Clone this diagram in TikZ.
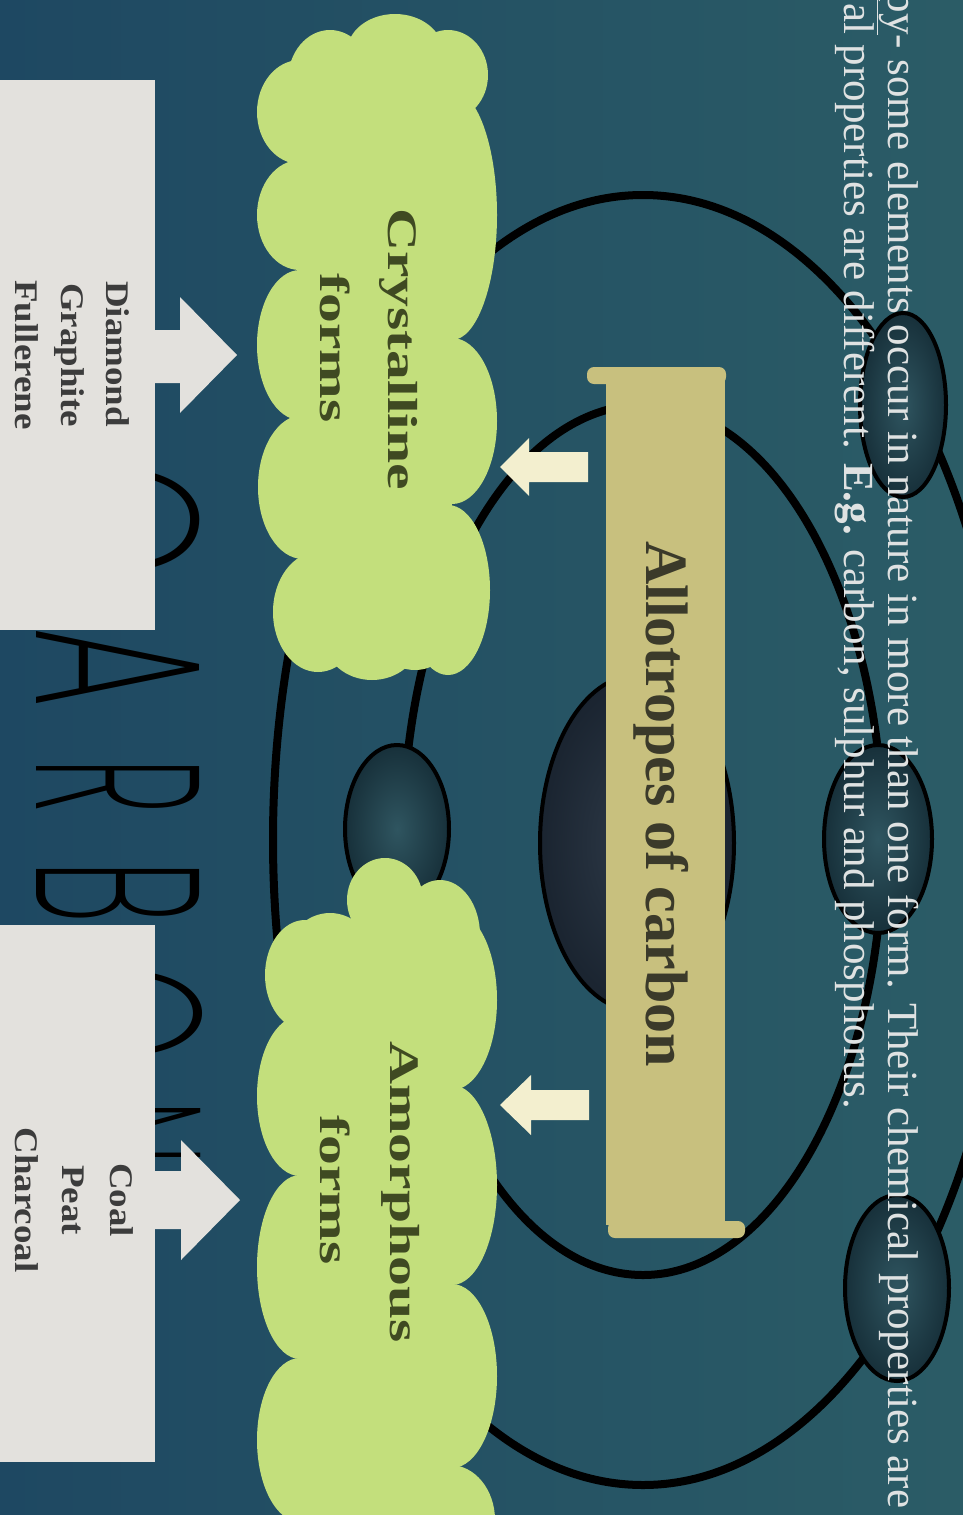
\documentclass[tikz,border=0pt]{standalone}
\usepackage{fontspec}
\usepackage{graphicx}
\setmainfont{Liberation Serif}
\newfontfamily\carbonfont{Poppins ExtraLight}
\usetikzlibrary{shapes.geometric}

\definecolor{bgleft}{HTML}{1E4862}
\definecolor{bgright}{HTML}{2B5C66}
\definecolor{cloudgreen}{HTML}{C3DF7C}
\definecolor{cloudtext}{HTML}{3F4A22}
\definecolor{boxgrey}{HTML}{E3E1DD}
\definecolor{boxtext}{HTML}{3C3C3C}
\definecolor{scrollfill}{HTML}{C8C07E}
\definecolor{scrolltext}{HTML}{3B3A2A}
\definecolor{cream}{HTML}{F3EFCF}
\definecolor{toptext}{HTML}{DFE2E2}
\definecolor{eleinner}{HTML}{2F5560}
\definecolor{eleouter}{HTML}{17303A}
\definecolor{nucinner}{HTML}{2E3A48}
\definecolor{nucouter}{HTML}{1A2430}

\tikzset{
  orbit/.style={draw=black, line width=8pt},
  electron/.style={ellipse, draw=black, line width=4pt, inner color=eleinner, outer color=eleouter, inner sep=0pt},
  nucleusnode/.style={ellipse, draw=black, line width=4pt, inner color=nucinner, outer color=nucouter, inner sep=0pt},
  cloud/.style={fill=cloudgreen},
  vtext/.style={rotate=-90, inner sep=0pt, anchor=base},
  topline/.style={rotate=-90, inner sep=0pt, anchor=base west, text=toptext, font=\fontsize{43}{43}\selectfont},
  cloudlabel/.style={vtext, text=cloudtext, font=\bfseries\fontsize{42}{42}\selectfont, xscale=1.42},
  boxlabel/.style={vtext, text=boxtext, font=\bfseries\fontsize{33}{33}\selectfont, xscale=1.12},
  cletter/.style={rotate=-90, inner sep=0pt, anchor=base west, text=black, font=\carbonfont},
}

\begin{document}
\begin{tikzpicture}[x=1pt, y=-1pt]
\useasboundingbox (0,0) rectangle (963,1515);
\clip (0,0) rectangle (963,1515);

% background
\shade[left color=bgleft, right color=bgright] (0,0) rectangle (963,1515);

% electron shells
\draw[orbit] (643,840) ellipse [x radius=370, y radius=645];
\draw[orbit] (643,840) ellipse [x radius=240, y radius=435];

% nucleus and electrons
\node[nucleusnode, minimum width=194pt, minimum height=336pt] (nuc) at (637,843) {};
\node[electron, minimum width=86pt, minimum height=184pt] (e1) at (903,405) {};
\node[electron, minimum width=108pt, minimum height=188pt] (e2) at (878,839) {};
\node[electron, minimum width=104pt, minimum height=186pt] (e3) at (897,1288) {};
\node[electron, minimum width=104pt, minimum height=168pt] (e4) at (397,829) {};

% scroll banner
\fill[scrollfill] (606,380) rectangle (725,1225);
\fill[scrollfill, rounded corners=7pt] (587,367) rectangle (726,384);
\fill[scrollfill, rounded corners=7pt] (608,1221) rectangle (745,1238);
\node[vtext, text=scrolltext, font=\bfseries\fontsize{60}{60}\selectfont] (allot) at (646,804) {Allotropes of carbon};

% arrows from the banner
\fill[cream] (500,467) -- (529,438) -- (529,452) -- (588,452) -- (588,482) -- (529,482) -- (529,496) -- cycle;
\fill[cream] (500,1105) -- (531,1075) -- (531,1090) -- (589,1090) -- (589,1120) -- (531,1120) -- (531,1135) -- cycle;

% crystalline cloud
\fill[cloud] (300,70) rectangle (452,640);
\foreach \cx/\cy/\rx/\ry in {330/80/42/50, 395/52/48/38, 448/75/40/45,
    452/215/45/125, 452/421/45/83, 448/590/42/85,
    300/112/43/52, 300/215/43/55, 300/345/43/75, 303/487/45/72, 318/612/45/60,
    372/638/48/42, 415/630/40/40}
  \fill[cloud] (\cx,\cy) ellipse [x radius=\rx, y radius=\ry];

% amorphous cloud
\fill[cloud] (300,930) rectangle (452,1515);
\foreach \cx/\cy/\rx/\ry in {385/900/38/42, 330/955/42/42, 440/935/40/55,
    452/1000/45/90, 452/1185/45/100, 452/1376/45/92, 450/1520/45/55,
    305/975/40/55, 300/1096/43/80, 300/1267/43/92, 300/1440/43/82}
  \fill[cloud] (\cx,\cy) ellipse [x radius=\rx, y radius=\ry];

\node[cloudlabel] (crys1) at (388,349) {Crystalline};
\node[cloudlabel] (crys2) at (320,348) {forms};
\node[cloudlabel] (amor1) at (390,1192) {Amorphous};
\node[cloudlabel] (amor2) at (320,1190) {forms};

% large element name behind the example boxes, set letter by letter
\node[cletter] (cC) at (37,460)  {\resizebox{117pt}{163pt}{C}};
\node[cletter] (cA) at (37,627)  {\resizebox{80pt}{163pt}{A}};
\node[cletter] (cR) at (37,758)  {\resizebox{55pt}{163pt}{R}};
\node[cletter] (cB) at (37,860)  {\resizebox{63pt}{163pt}{B}};
\node[cletter] (cO) at (37,963)  {\resizebox{100pt}{165pt}{O}};
\node[cletter] (cN) at (37,1100) {\resizebox{65pt}{163pt}{N}};

% example boxes
\fill[boxgrey] (-5,80) rectangle (155,630);
\fill[boxgrey] (-5,925) rectangle (155,1462);
\fill[boxgrey] (150,330) -- (180,330) -- (180,297) -- (237,355) -- (180,413) -- (180,383) -- (150,383) -- cycle;
\fill[boxgrey] (150,1171) -- (181,1171) -- (181,1140) -- (240,1200) -- (181,1260) -- (181,1229) -- (150,1229) -- cycle;

\node[boxlabel] (dia) at (106,354) {Diamond};
\node[boxlabel] (gra) at (61,355) {Graphite};
\node[boxlabel] (ful) at (16,355) {Fullerene};
\node[boxlabel] (coal) at (110,1200) {Coal};
\node[boxlabel] (peat) at (62,1200) {Peat};
\node[boxlabel] (charc) at (15,1200) {Charcoal};

% definition text along the edge
\node[topline] (line1) at (888,-30) {\underline{ppy}- some elements occur in nature in more than one form. Their chemical properties are};
\node[topline] (line2) at (844,3) {al properties are different. \textbf{E.g.} carbon, sulphur and phosphorus.};
\end{tikzpicture}
\end{document}
